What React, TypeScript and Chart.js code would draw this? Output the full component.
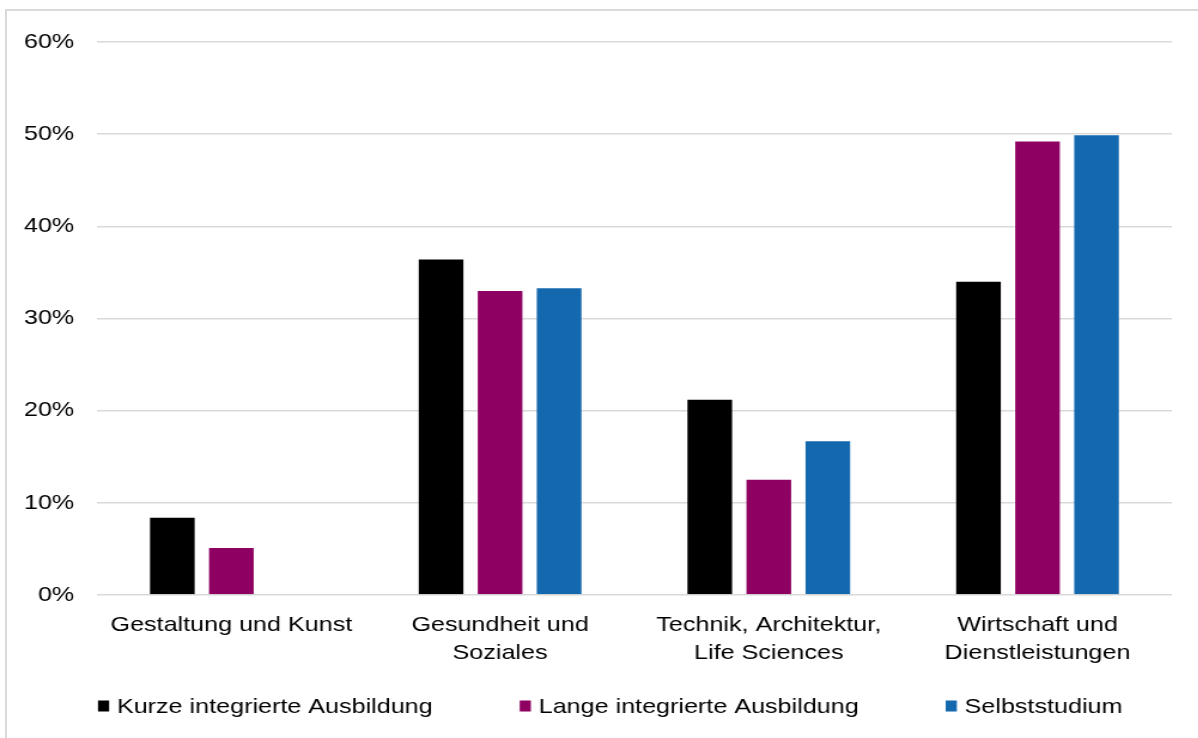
import React, { useEffect, useRef } from "react";
import { Chart, registerables } from "chart.js";

Chart.register(...registerables);

const categories: (string | string[])[] = [
  "Gestaltung und Kunst",
  ["Gesundheit und", "Soziales"],
  ["Technik, Architektur,", "Life Sciences"],
  ["Wirtschaft und", "Dienstleistungen"],
];

const seriesNames = [
  "Kurze integrierte Ausbildung",
  "Lange integrierte Ausbildung",
  "Selbststudium",
];

const kurzeValues = [8.5, 36.5, 21.3, 34.1];
const langeValues = [5.2, 33.1, 12.6, 49.3];
const selbstValues = [0, 33.4, 16.8, 50.0];

const seriesColors = ["#000000", "#8F0063", "#1368AE"];

const yTicks = [0, 10, 20, 30, 40, 50, 60];

const FONT = "'Liberation Sans', Arial, sans-serif";
const FONT_SIZE = 21;

// The drawing is rendered narrower and widened with a horizontal scale.
const STRETCH = 1.197;
const CANVAS_W = 1001;
const CANVAS_H = 738;

// Draws the legend row beneath the category labels.
const bottomLegend = {
  id: "bottomLegend",
  afterDraw(chart: Chart) {
    const ctx = chart.ctx;
    const boxW = 9.3;
    const boxH = 11;
    const textGap = 6.5;
    const itemGap = 72.7;
    const centerX = 509.8;
    const y = 706;
    ctx.save();
    ctx.font = `${FONT_SIZE}px ${FONT}`;
    ctx.textBaseline = "middle";
    ctx.textAlign = "left";
    const items = chart.data.datasets.map((ds) => ({
      text: String(ds.label),
      color: String(ds.backgroundColor),
      w: ctx.measureText(String(ds.label)).width,
    }));
    const total =
      items.reduce((s, it) => s + boxW + textGap + it.w, 0) +
      itemGap * (items.length - 1);
    let x = centerX - total / 2;
    items.forEach((it) => {
      ctx.fillStyle = it.color;
      ctx.fillRect(x, y - boxH / 2, boxW, boxH);
      ctx.fillStyle = "#000000";
      ctx.fillText(it.text, x + boxW + textGap, y + 1);
      x += boxW + textGap + it.w + itemGap;
    });
    ctx.restore();
  },
};

export default function App() {
  const canvasRef = useRef<HTMLCanvasElement | null>(null);

  useEffect(() => {
    if (!canvasRef.current) return;
    const valueSets = [kurzeValues, langeValues, selbstValues];
    const chart = new Chart(canvasRef.current, {
      type: "bar",
      data: {
        labels: categories,
        datasets: seriesNames.map((name, i) => ({
          label: name,
          data: valueSets[i],
          backgroundColor: seriesColors[i],
          borderColor: "rgba(255,255,255,0.3)",
          borderWidth: 1,
          categoryPercentage: 0.659,
          barPercentage: 0.797,
        })),
      },
      options: {
        responsive: false,
        animation: false,
        devicePixelRatio: 1,
        layout: { padding: { top: 42, left: 1, right: 22, bottom: 55 } },
        plugins: {
          legend: { display: false },
          tooltip: { enabled: false },
          title: { display: false },
        },
        scales: {
          x: {
            grid: { display: false, drawTicks: false },
            border: { display: false },
            ticks: {
              color: "#000000",
              padding: 16,
              maxRotation: 0,
              autoSkip: false,
              font: { family: FONT, size: FONT_SIZE, lineHeight: 28 / 21 },
            },
          },
          y: {
            min: 0,
            max: 60,
            afterBuildTicks: (axis) => {
              axis.ticks = yTicks.map((v) => ({ value: v }));
            },
            grid: { color: "#d9d9d9", lineWidth: 1.5, drawTicks: false },
            border: { display: false },
            ticks: {
              color: "#000000",
              padding: 19,
              font: { family: FONT, size: FONT_SIZE },
              callback: (v) => `${v}%`,
            },
          },
        },
      },
      plugins: [bottomLegend],
    });
    return () => chart.destroy();
  }, []);

  return (
    <div
      style={{
        position: "fixed",
        left: 0,
        top: 0,
        width: 1198,
        height: 738,
        background: "#ffffff",
        overflow: "hidden",
      }}
    >
      <div
        style={{
          position: "absolute",
          left: 5,
          top: 9,
          right: -10,
          bottom: -10,
          borderLeft: "2px solid #d9d9d9",
          borderTop: "2px solid #d9d9d9",
        }}
      />
      <div
        style={{
          position: "absolute",
          left: 0,
          top: 0,
          width: CANVAS_W,
          height: CANVAS_H,
          transform: `scaleX(${STRETCH})`,
          transformOrigin: "0 0",
        }}
      >
        <canvas
          ref={canvasRef}
          width={CANVAS_W}
          height={CANVAS_H}
          style={{ display: "block" }}
        />
      </div>
    </div>
  );
}
